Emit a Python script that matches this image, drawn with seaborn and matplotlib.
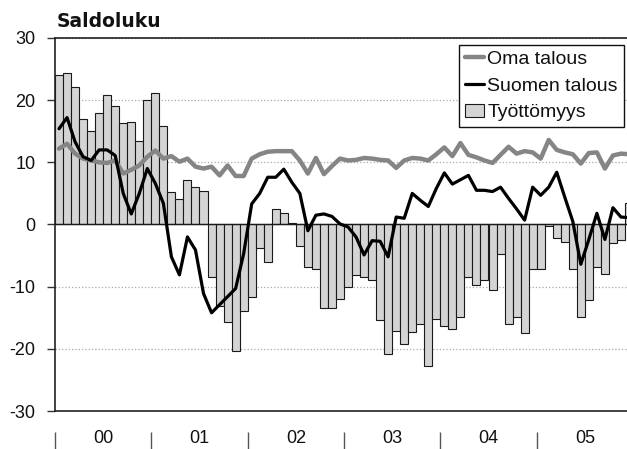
import numpy as np
import pandas as pd
import matplotlib
matplotlib.use("Agg")
import matplotlib.pyplot as plt
import matplotlib.transforms as mtransforms
from matplotlib.lines import Line2D
from matplotlib.patches import Patch
import seaborn as sns

# ---------------- data ----------------
years = ["00", "01", "02", "03", "04", "05"]

oma_talous = [
    12.2, 13.0, 11.4, 10.6, 10.3, 10.0, 9.9, 10.3, 8.2, 8.8, 9.5, 10.9,
    11.9, 10.6, 11.0, 10.1, 10.6, 9.3, 9.0, 9.3, 7.9, 9.5, 7.8, 7.8,
    10.6, 11.3, 11.7, 11.8, 11.8, 11.8, 10.3, 8.2, 10.7, 8.1, 9.4, 10.6,
    10.3, 10.4, 10.7, 10.6, 10.4, 10.3, 9.1, 10.3, 10.7, 10.6, 10.3, 11.3,
    12.4, 11.0, 13.1, 11.2, 10.8, 10.3, 9.9, 11.2, 12.5, 11.4, 11.8, 11.6,
    10.6, 13.6, 12.0, 11.6, 11.3, 9.8, 11.5, 11.6, 9.0, 11.1, 11.4, 11.3,
]

suomen_talous = [
    15.4, 17.2, 13.3, 10.9, 10.3, 12.0, 12.0, 11.1, 5.0, 1.7, 5.0, 9.0,
    6.6, 3.4, -5.2, -8.1, -2.0, -4.1, -11.1, -14.2, -12.9, -11.6, -10.3, -4.7,
    3.3, 5.0, 7.6, 7.6, 8.9, 6.8, 5.0, -1.0, 1.5, 1.7, 1.3, 0.1,
    -0.4, -2.0, -4.9, -2.6, -2.7, -5.2, 1.2, 1.0, 5.0, 3.9, 2.9, 5.8,
    8.3, 6.5, 7.2, 7.9, 5.5, 5.5, 5.3, 6.0, 4.2, 2.5, 0.7, 6.0,
    4.7, 6.0, 8.4, 4.4, 0.5, -6.4, -2.4, 1.8, -2.4, 2.7, 1.2, 1.1,
]

tyottomyys = [
    24.0, 24.3, 22.1, 17.0, 15.0, 17.9, 20.9, 19.0, 16.4, 16.5, 13.4, 20.1,
    21.1, 15.9, 5.3, 4.1, 7.1, 6.1, 5.4, -8.5, -13.1, -15.7, -20.3, -13.9,
    -11.6, -3.7, -6.1, 2.5, 1.9, 0.2, -3.4, -6.8, -7.1, -13.5, -13.4, -12.0,
    -10.1, -8.1, -8.4, -8.9, -15.3, -20.8, -17.1, -19.2, -17.3, -16.0, -22.8, -15.2,
    -16.4, -16.8, -14.8, -8.4, -9.7, -9.0, -10.5, -4.8, -16.0, -14.9, -17.4, -7.1,
    -7.2, -0.2, -2.1, -2.8, -7.2, -14.8, -12.1, -6.8, -8.0, -2.9, -2.5, 3.4,
]

y_ticks = [-30, -20, -10, 0, 10, 20, 30]

# ---------------- frame ----------------
months = np.arange(len(tyottomyys))
df = pd.DataFrame({
    "kk": months,
    "Oma talous": oma_talous,
    "Suomen talous": suomen_talous,
    "Työttömyys": tyottomyys,
})

sns.set_theme(style="white")
plt.rcParams["font.family"] = ["Liberation Sans", "DejaVu Sans"]

W, H = 627, 449
fig = plt.figure(figsize=(W / 100, H / 100), dpi=100)
ax = fig.add_axes([55 / W, 1 - 411 / H, 578 / W, 373 / H])

bar_color = "#d4d4d4"
gray_line = "#858585"

sns.barplot(data=df, x="kk", y="Työttömyys", native_scale=True, width=1.0,
            color=bar_color, saturation=1, edgecolor="#1a1a1a", linewidth=0.8,
            errorbar=None, ax=ax, zorder=2)
sns.lineplot(data=df, x="kk", y="Oma talous", color=gray_line, lw=3.2,
             ax=ax, zorder=3)
sns.lineplot(data=df, x="kk", y="Suomen talous", color="black", lw=2.3,
             ax=ax, zorder=4)

ax.set_xlabel("")
ax.set_ylabel("")
ax.set_xlim(-0.5, len(months) - 0.5)
ax.set_ylim(min(y_ticks), max(y_ticks))
ax.set_yticks(y_ticks)
ax.set_yticklabels([str(v) for v in y_ticks])
ax.tick_params(axis="y", which="major", left=True, length=6, width=1.0,
               color="#333333", pad=8, labelsize=13, labelcolor="#111111")

# grid
ax.set_axisbelow(True)
ax.yaxis.grid(True, linestyle=":", color="#a8a8a8", linewidth=0.9)
ax.xaxis.grid(False)
ax.axhline(0, color="#1a1a1a", lw=1.0, zorder=2.5)

# spines
for s in ["left", "top", "bottom"]:
    ax.spines[s].set_visible(True)
    ax.spines[s].set_color("#222222")
    ax.spines[s].set_linewidth(1.2)
ax.spines["right"].set_visible(False)

# x axis: year labels centered, separators below
n_years = len(years)
centers = np.arange(n_years) * 12 + 5.5
bounds = np.arange(n_years + 1) * 12 - 0.5
ax.set_xticks([])
ax.set_xticks(centers, minor=True)
ax.set_xticklabels(years, minor=True)
ax.tick_params(axis="x", which="minor", length=0, pad=14, labelsize=13,
               labelcolor="#111111", bottom=True)
trans = mtransforms.blended_transform_factory(ax.transData, ax.transAxes)
ax.vlines(bounds, -0.056, -0.11, transform=trans, colors="#555555",
          lw=1.0, clip_on=False)

# title
fig.text(57 / W, 1 - 27 / H, "Saldoluku", fontsize=13.5, fontweight="heavy",
         family="DejaVu Sans", va="baseline", ha="left", color="#111111")

# legend
handles = [
    Line2D([0], [0], color=gray_line, lw=3.2),
    Line2D([0], [0], color="black", lw=2.3),
    Patch(facecolor=bar_color, edgecolor="#1a1a1a", linewidth=0.8),
]
labels = ["Oma talous", "Suomen talous", "Työttömyys"]
leg = fig.legend(handles, labels, loc="upper left",
                 bbox_to_anchor=(459 / W, 1 - 45 / H),
                 bbox_transform=fig.transFigure, frameon=True, fancybox=False,
                 edgecolor="#111111", framealpha=1, fontsize=14,
                 borderpad=0.3, handlelength=1.0, handleheight=0.6,
                 handletextpad=0.15, labelspacing=0.5, borderaxespad=0)
leg.get_frame().set_linewidth(1.0)
for t in leg.get_texts():
    t.set_color("#111111")

fig.savefig("out.png", dpi=100)
